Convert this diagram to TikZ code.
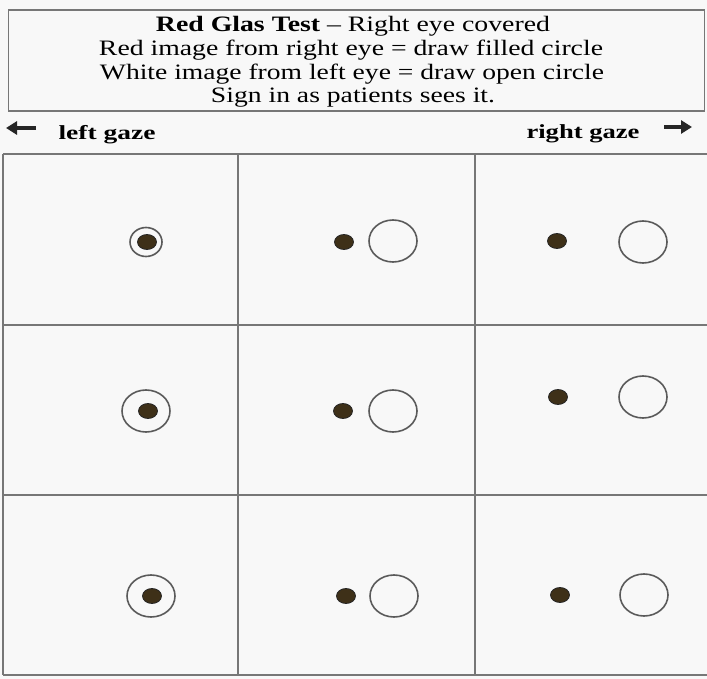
\documentclass[tikz,border=0pt]{standalone}
\usepackage{graphicx}
\usepackage{fontspec}
\setmainfont{Liberation Serif}
\usetikzlibrary{shapes.geometric,arrows.meta}
\definecolor{bg}{HTML}{F8F8F8}
\definecolor{gridc}{HTML}{777777}
\definecolor{ringc}{HTML}{5A5A5A}
\definecolor{dotc}{HTML}{3E3018}
\newcommand{\fitw}[2]{\resizebox{#1}{\height}{#2}}
\tikzset{
  ring/.style={ellipse, draw=ringc, line width=1.6pt, minimum width=48pt, minimum height=42pt, inner sep=0pt},
  smallring/.style={ellipse, draw=ringc, line width=1.6pt, minimum width=32pt, minimum height=29pt, inner sep=0pt},
  dotf/.style={ellipse, draw=black!85, fill=dotc, line width=0.8pt, minimum width=19pt, minimum height=15pt, inner sep=0pt},
  gridl/.style={draw=gridc, line width=1.8pt},
  txt/.style={font=\fontsize{22}{25}\selectfont, inner sep=0pt, anchor=base},
  gazetxt/.style={font=\fontsize{20}{23}\selectfont\bfseries, inner sep=0pt, anchor=base},
  gazearrow/.style={line width=4pt, -{Triangle[length=11pt,width=13pt]}}
}
\begin{document}
\begin{tikzpicture}[x=1pt,y=-1pt]
\useasboundingbox (0,0) rectangle (707,679);
\fill[bg] (0,0) rectangle (707,679);
% header box
\node[draw=gridc, line width=1.5pt, fill=bg, minimum width=696pt, minimum height=101pt, inner sep=0pt] (box) at (356.5,60.5) {};
\node[txt] (l1) at (353,32) {\fitw{394pt}{\textbf{Red Glas Test} – Right eye covered}};
\node[txt] (l2) at (351,56) {\fitw{504pt}{Red image from right eye = draw filled circle}};
\node[txt] (l3) at (352,80) {\fitw{504pt}{White image from left eye = draw open circle}};
\node[txt] (l4) at (353,103) {\fitw{284pt}{Sign in as patients sees it.}};
% gaze labels
\node[gazetxt] (lg) at (107,140) {\fitw{97pt}{left gaze}};
\node[gazetxt] (rg) at (583,139) {\fitw{113pt}{right gaze}};
\coordinate (la1) at (36,128);
\coordinate (la2) at (6,128);
\coordinate (ra1) at (664,127);
\coordinate (ra2) at (692,127);
\draw[gazearrow, draw=black!85, fill=black!85] (la1) -- (la2);
\draw[gazearrow, draw=black!85, fill=black!85] (ra1) -- (ra2);
% grid
\draw[gridl] (3,154) -- (707,154);
\draw[gridl] (3,325) -- (707,325);
\draw[gridl] (3,495) -- (707,495);
\draw[gridl] (3,675) -- (707,675);
\draw[gridl] (3,154) -- (3,675);
\draw[gridl] (238,154) -- (238,675);
\draw[gridl] (475,154) -- (475,675);
% row 1
\node[smallring] (r11) at (146,242) {};
\node[dotf] (d11) at (147,242) {};
\node[dotf] (d12) at (344,242) {};
\node[ring] (r12) at (393,241) {};
\node[dotf] (d13) at (557,241) {};
\node[ring] (r13) at (643,242) {};
% row 2
\node[ring] (r21) at (146,411) {};
\node[dotf] (d21) at (148,411) {};
\node[dotf] (d22) at (343,411) {};
\node[ring] (r22) at (393,411) {};
\node[dotf] (d23) at (558,397) {};
\node[ring] (r23) at (643,397) {};
% row 3
\node[ring] (r31) at (151,596) {};
\node[dotf] (d31) at (152,596) {};
\node[dotf] (d32) at (346,596) {};
\node[ring] (r32) at (394,596) {};
\node[dotf] (d33) at (560,595) {};
\node[ring] (r33) at (644,595) {};
\end{tikzpicture}
\end{document}
